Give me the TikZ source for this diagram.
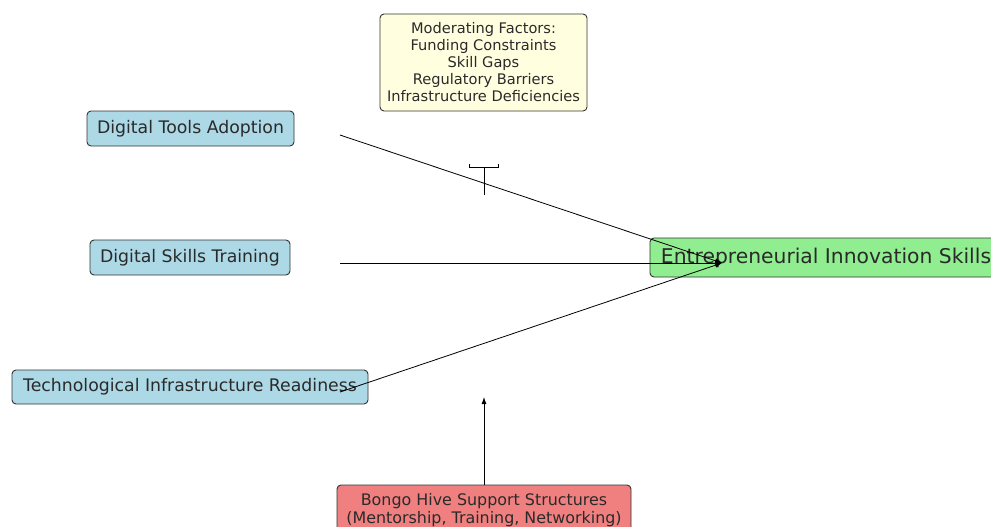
\documentclass[tikz,border=0pt]{standalone}
\usepackage{fontspec}
\setmainfont{DejaVu Sans}
\usetikzlibrary{arrows.meta}
\definecolor{lblue}{HTML}{ADD8E6}
\definecolor{lgreen}{HTML}{90EE90}
\definecolor{lcoral}{HTML}{F08080}
\definecolor{lyellow}{HTML}{FFFFE0}
\definecolor{txt}{HTML}{2A2A2A}
\tikzset{
  box/.style={draw=black!80, line width=0.9pt, rounded corners=4pt, text=txt, align=center, inner sep=0pt},
  conn/.style={line width=0.8pt, draw=black},
  arr/.style={conn, -{Latex[length=7pt,width=5pt]}},
}
\begin{document}
\begin{tikzpicture}[x=1pt,y=-1pt]
\useasboundingbox (0,0) rectangle (991,527);
\fill[white] (0,0) rectangle (991,527);
% nodes
\node[box, fill=lyellow, minimum width=207pt, minimum height=97pt, font=\fontsize{14.6}{17}\selectfont] (mod) at (483.5,62.5)
  {Moderating Factors:\\Funding Constraints\\Skill Gaps\\Regulatory Barriers\\Infrastructure Deficiencies};
\node[box, fill=lblue, minimum width=207pt, minimum height=35pt, font=\fontsize{17.3}{20}\selectfont] (dta) at (190.5,128.5) {Digital Tools Adoption};
\node[box, fill=lblue, minimum width=200pt, minimum height=35pt, font=\fontsize{17.3}{20}\selectfont] (dst) at (190,257.5) {Digital Skills Training};
\node[box, fill=lblue, minimum width=356pt, minimum height=34pt, font=\fontsize{17.3}{20}\selectfont] (tir) at (190,387) {Technological Infrastructure Readiness};
\node[box, fill=lgreen, minimum width=352pt, minimum height=39pt, font=\fontsize{20.3}{24}\selectfont] (eis) at (826,257.5) {Entrepreneurial Innovation Skills};
\node[box, fill=lcoral, minimum width=294pt, minimum height=50pt, font=\fontsize{15.9}{18.5}\selectfont] (bh) at (484,510) {Bongo Hive Support Structures\\(Mentorship, Training, Networking)};
% connector points
\coordinate (s1) at (340,135);
\coordinate (s2) at (340,263);
\coordinate (s3) at (340,392);
\coordinate (t) at (722,263);
\coordinate (mb) at (484,195);
\coordinate (mt) at (484,167);
\coordinate (ml) at (469,167);
\coordinate (mr) at (498,167);
\coordinate (bt) at (484,397);
\draw[arr] (s1) -- (t);
\draw[arr] (s2) -- (t);
\draw[arr] (s3) -- (t);
\draw[conn] (mb) -- (mt);
\draw[conn] ([yshift=3pt]ml) -- (ml) -- (mr) -- ([yshift=3pt]mr);
\draw[arr] (bh.north -| bt) -- (bt);
\end{tikzpicture}
\end{document}
